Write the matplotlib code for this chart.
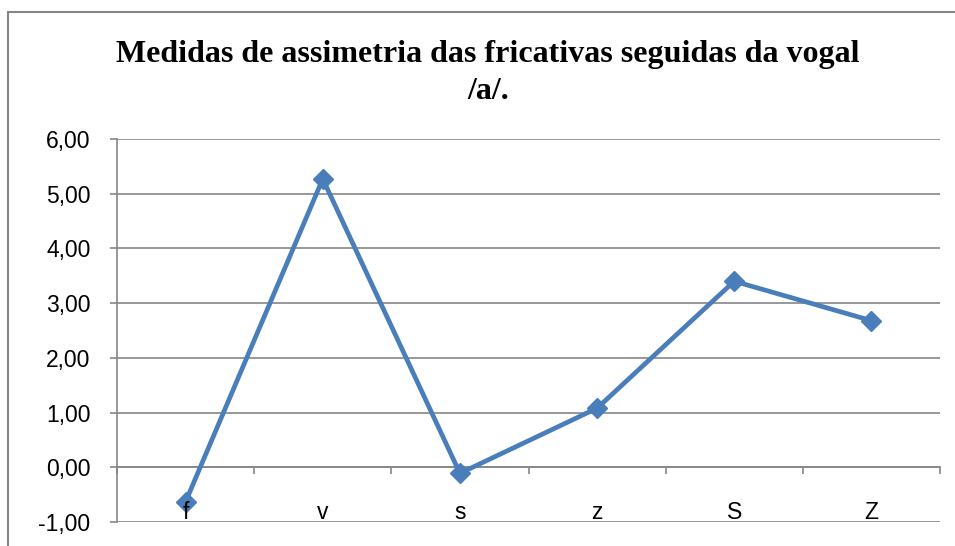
import matplotlib.pyplot as plt
import matplotlib.patches as patches
from matplotlib.ticker import FuncFormatter, FixedLocator

# data
categories = ["f", "v", "s", "z", "S", "Z"]
values = [-0.63, 5.27, -0.11, 1.08, 3.40, 2.68]
yticks = [-1, 0, 1, 2, 3, 4, 5, 6]
title = "Medidas de assimetria das fricativas seguidas da vogal\n/a/."

grey = "#868686"
blue = "#4a7ebb"

fig = plt.figure(figsize=(9.55, 5.46), dpi=100)
ax = fig.add_axes([117 / 955, 1 - 522 / 546, (940 - 117) / 955, (522 - 139) / 546])

x = list(range(len(categories)))
ax.plot(x, values, color=blue, lw=3.4, marker="D", ms=10.5, mec=blue, mfc=blue,
        zorder=5, clip_on=False)

ax.set_xlim(-0.5, len(categories) - 0.5)
ax.set_ylim(-1, 6)
ax.set_yticks(yticks)
ax.yaxis.set_major_formatter(FuncFormatter(lambda v, p: f"{v:.2f}".replace(".", ",")))
ax.grid(axis="y", color=grey, lw=1.2)
ax.set_axisbelow(True)

for s in ["top", "right"]:
    ax.spines[s].set_visible(False)
ax.spines["left"].set_color(grey)
ax.spines["left"].set_linewidth(1.2)
ax.spines["bottom"].set_position(("data", 0))
ax.spines["bottom"].set_color(grey)
ax.spines["bottom"].set_linewidth(1.2)

# boundary ticks on the zero line; category labels drawn near the bottom, over the line
ax.set_xticks([])
ax.xaxis.set_minor_locator(FixedLocator([i - 0.5 for i in range(len(categories) + 1)]))
ax.tick_params(axis="x", which="minor", length=5, direction="out", color=grey, width=1.2)
for i, cat in enumerate(categories):
    ax.annotate(cat, (i, -1), xytext=(0, 3), textcoords="offset pixels",
                ha="center", va="baseline", fontsize=16.5, family="Liberation Sans",
                zorder=10, annotation_clip=False)

ax.tick_params(axis="y", length=5, color=grey, width=1.2, pad=14, labelsize=16.5)
for lab in ax.get_yticklabels():
    lab.set_fontfamily("Liberation Sans")

fig.text(488 / 955, 1 - 73 / 546, title, ha="center", va="center",
         fontsize=23, fontweight="bold", family="Liberation Serif", linespacing=1.38)

# outer chart border, cut off at the right and bottom edges
fig.patches.append(patches.Rectangle((8 / 955, -0.1), 1.0, 1.1 - 12 / 546,
                                     transform=fig.transFigure, fill=False,
                                     edgecolor=grey, lw=1.5))

fig.savefig("out.png", dpi=100)
